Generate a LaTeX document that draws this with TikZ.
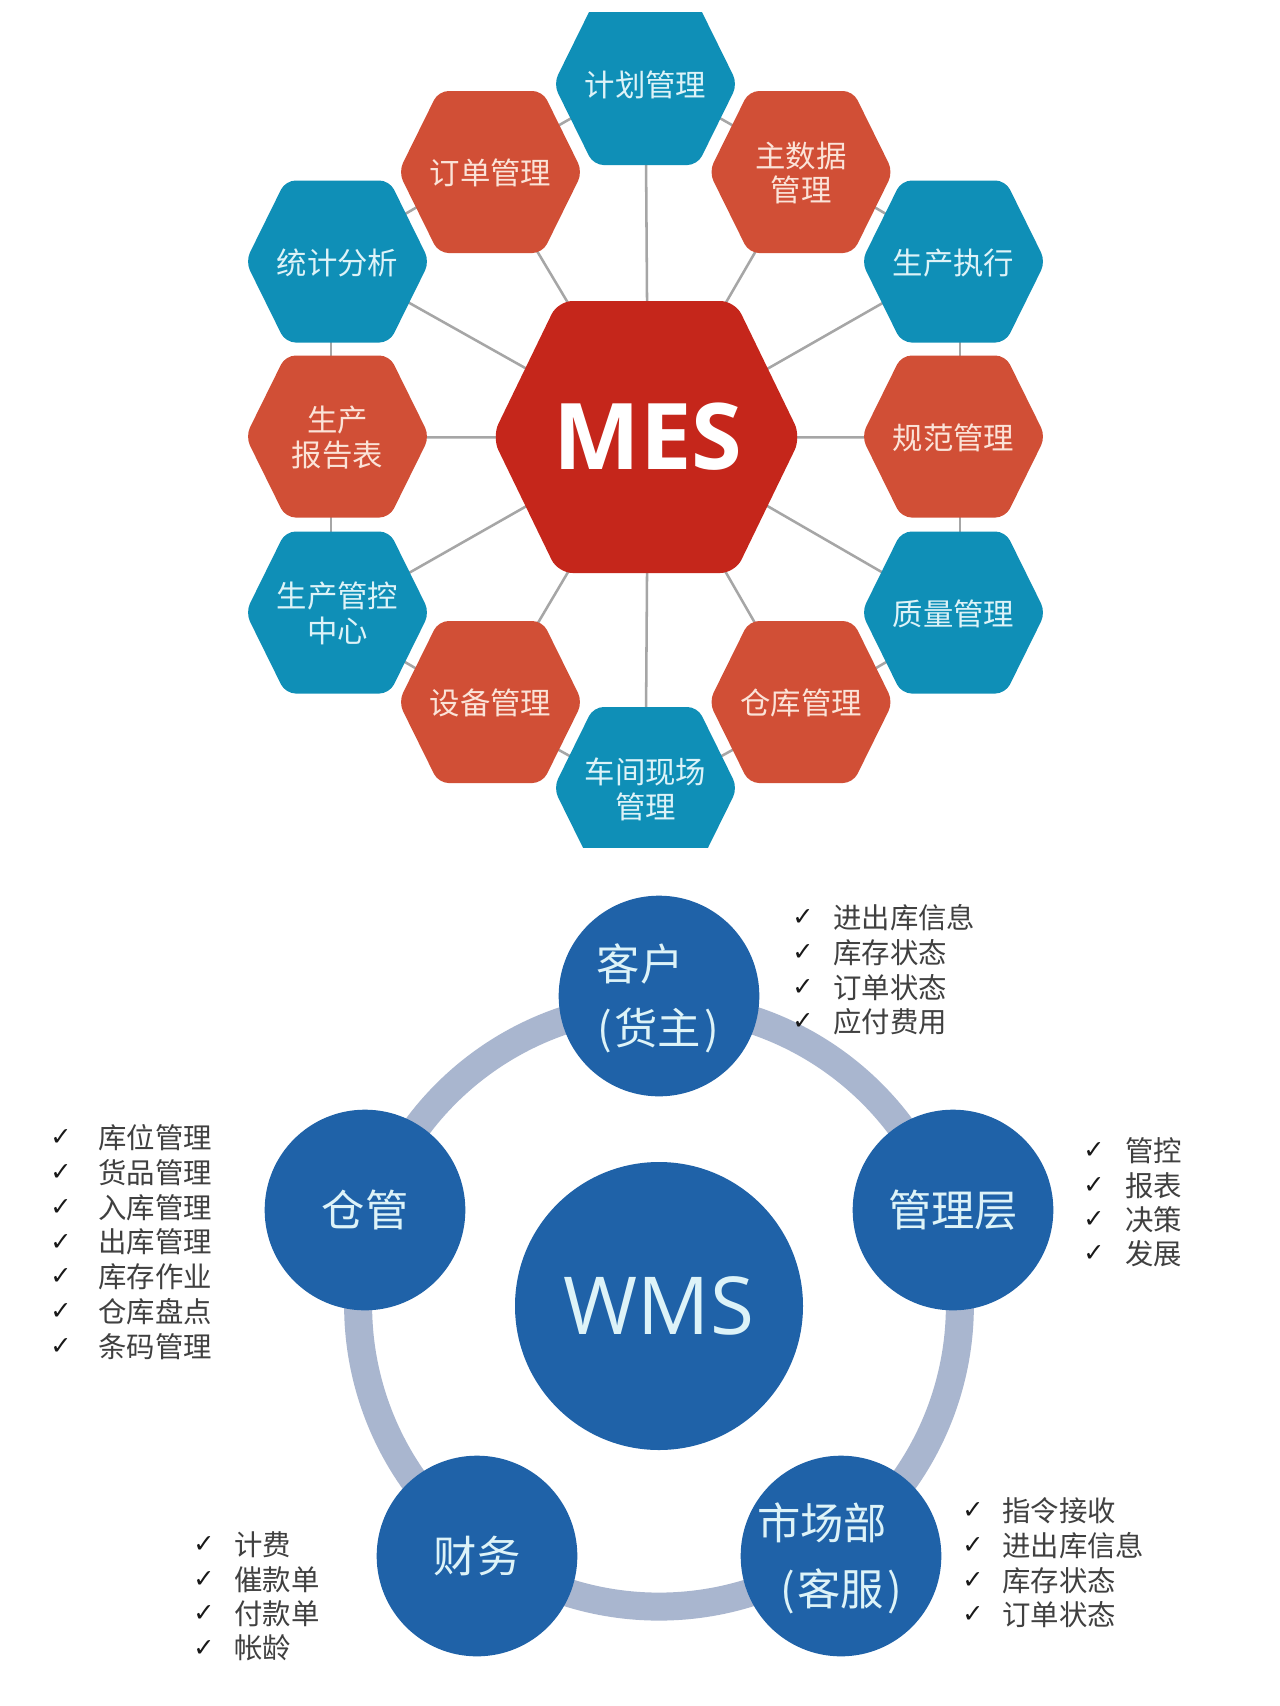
\documentclass[tikz,border=0pt]{standalone}
\usepackage{fontspec}
\usetikzlibrary{calc}
\newfontfamily\cjk{Noto Sans CJK SC}
\newfontfamily\chkfont{DejaVu Sans}
\newfontfamily\opensans{Open Sans}
\definecolor{hexteal}{HTML}{0F8FB7}
\definecolor{hexred}{HTML}{D14F36}
\definecolor{mesred}{HTML}{C5261B}
\definecolor{wmsblue}{HTML}{1F62A8}
\definecolor{ringc}{HTML}{A9B6CF}
\definecolor{lightc}{HTML}{DDF3F8}
\definecolor{warmc}{HTML}{FBE3D8}
\pgfdeclarelayer{bg}
\pgfsetlayers{bg,main}
\tikzset{
  hexlabel/.style={align=center,inner sep=0pt,yshift=-0.8pt,font=\cjk\fontsize{22.8}{26}\selectfont},
  linkline/.style={draw=black!35,line width=1.9pt},
  ringarc/.style={draw=ringc,line width=21pt,bend left=36,looseness=0.94},
  bigcirc/.style={circle,fill=wmsblue,text=lightc,inner sep=0pt,align=center,minimum size=150.5pt},
  roletext/.style={inner sep=0pt,text=lightc,font=\cjk\fontsize{32.5}{32}\selectfont},
  chk/.style={inner sep=0pt,text=black!90,font=\chkfont\fontsize{19}{19}\selectfont},
  itemtext/.style={anchor=west,inner sep=0pt,text=black!75,font=\cjk\fontsize{21.3}{24}\selectfont},
}
% name, x, y, colour, text colour, text
\newcommand{\hexat}[6]{%
  \fill[#4,rounded corners=7.5pt] (#2-92,#3) -- (#2-52,#3-81) -- (#2+52,#3-81) -- (#2+92,#3) -- (#2+52,#3+81) -- (#2-52,#3+81) -- cycle;
  \node[hexlabel,text=#5] (#1) at (#2,#3) {#6};
}
% key, check x, text x, y, text
\newcommand{\rowat}[5]{%
  \node[chk] (c#1) at (#2,#3) {✓};
  \node[itemtext] (t#1) at (#4,#3) {#5};
}
\begin{document}
\begin{tikzpicture}[x=0.75pt,y=-0.75pt]
\useasboundingbox (0,0) rectangle (1279,1706);
% ---- MES ----
\begin{scope}
\clip (0,12) rectangle (1279,847);
\fill[mesred,rounded corners=11pt] (492,437) -- (558,301) -- (735,301) -- (801,437) -- (735,573) -- (558,573) -- cycle;
\node[inner sep=0pt,text=white,font=\opensans\bfseries\fontsize{69}{69}\selectfont] (mes) at (648,437) {MES};
\hexat{plan}{645.5}{84}{hexteal}{lightc}{计划管理}
\hexat{order}{490.5}{172}{hexred}{warmc}{订单管理}
\hexat{master}{801}{172}{hexred}{warmc}{主数据\\管理}
\hexat{stats}{337.5}{261.5}{hexteal}{lightc}{统计分析}
\hexat{exec}{953.5}{261.5}{hexteal}{lightc}{生产执行}
\hexat{report}{337.5}{436.5}{hexred}{warmc}{生产\\报告表}
\hexat{norm}{953.5}{436.5}{hexred}{warmc}{规范管理}
\hexat{ctrl}{337.5}{612.5}{hexteal}{lightc}{生产管控\\中心}
\hexat{quality}{953.5}{612.5}{hexteal}{lightc}{质量管理}
\hexat{equip}{490.5}{702}{hexred}{warmc}{设备管理}
\hexat{store}{801}{702}{hexred}{warmc}{仓库管理}
\hexat{shop}{645.5}{788}{hexteal}{lightc}{车间现场\\管理}
\end{scope}
\begin{pgfonlayer}{bg}
\fill[white] (0,0) rectangle (1279,1706);
\foreach \n in {plan,order,master,stats,exec,report,norm,ctrl,quality,equip,store,shop}
  \draw[linkline] (mes.center) -- (\n.center);
\draw[linkline] ($(plan.center)+(0,-9)$) -- ($(master.center)+(0,-9)$);
\draw[linkline] ($(plan.center)+(0,-9)$) -- ($(order.center)+(0,-9)$);
\draw[linkline] ($(order.center)+(0,-9)$) -- ($(stats.center)+(0,-9)$);
\draw[linkline] ($(master.center)+(0,-9)$) -- ($(exec.center)+(0,-9)$);
\draw[linkline] ($(stats.center)+(-6.5,0)$) -- ($(report.center)+(-6.5,0)$);
\draw[linkline] ($(report.center)+(-6.5,0)$) -- ($(ctrl.center)+(-6.5,0)$);
\draw[linkline] ($(exec.center)+(6.5,0)$) -- ($(norm.center)+(6.5,0)$);
\draw[linkline] ($(norm.center)+(6.5,0)$) -- ($(quality.center)+(6.5,0)$);
\draw[linkline] ($(ctrl.center)+(0,9)$) -- ($(equip.center)+(0,9)$);
\draw[linkline] ($(quality.center)+(0,9)$) -- ($(store.center)+(0,9)$);
\draw[linkline] ($(equip.center)+(0,9)$) -- ($(shop.center)+(0,9)$);
\draw[linkline] ($(store.center)+(0,9)$) -- ($(shop.center)+(0,9)$);
\end{pgfonlayer}
% ---- WMS ----
\node[bigcirc,minimum size=216pt,font=\opensans\fontsize{60}{60}\selectfont] (wms) at (659,1306) {WMS};
\node[bigcirc] (kehu) at (659,996) {};
\node[bigcirc] (cang) at (365,1210) {};
\node[bigcirc] (guan) at (953,1210) {};
\node[bigcirc] (cai) at (477,1556) {};
\node[bigcirc] (shi) at (841,1556) {};
\node[roletext] (l1) at (640,964) {客户};
\node[roletext] (l2) at (658,1030) {(\hspace{2pt}货主\hspace{2pt})};
\node[roletext] (l3) at (365,1210) {仓管};
\node[roletext] (l4) at (953,1210) {管理层};
\node[roletext] (l5) at (477,1556) {财务};
\node[roletext] (l6) at (822,1523) {市场部};
\node[roletext] (l7) at (841,1591) {(\hspace{2pt}客服\hspace{2pt})};
\begin{pgfonlayer}{bg}
\coordinate (ra) at ($(wms.center)!225.75pt!(kehu.center)$);
\coordinate (rb) at ($(wms.center)!225.75pt!(guan.center)$);
\coordinate (rc) at ($(wms.center)!225.75pt!(shi.center)$);
\coordinate (rd) at ($(wms.center)!225.75pt!(cai.center)$);
\coordinate (re) at ($(wms.center)!225.75pt!(cang.center)$);
\draw[ringarc] (ra) to (rb);
\draw[ringarc] (rb) to (rc);
\draw[ringarc] (rc) to (rd);
\draw[ringarc] (rd) to (re);
\draw[ringarc] (re) to (ra);
\end{pgfonlayer}
% ---- lists ----
\rowat{a1}{61}{1138}{98}{库位管理}
\rowat{a2}{61}{1172.7}{98}{货品管理}
\rowat{a3}{61}{1207.4}{98}{入库管理}
\rowat{a4}{61}{1242.1}{98}{出库管理}
\rowat{a5}{61}{1276.8}{98}{库存作业}
\rowat{a6}{61}{1311.5}{98}{仓库盘点}
\rowat{a7}{61}{1346.2}{98}{条码管理}
\rowat{b1}{204}{1545}{234}{计费}
\rowat{b2}{204}{1579.4}{234}{催款单}
\rowat{b3}{204}{1613.8}{234}{付款单}
\rowat{b4}{204}{1648.2}{234}{帐龄}
\rowat{d1}{803}{918}{833}{进出库信息}
\rowat{d2}{803}{952.7}{833}{库存状态}
\rowat{d3}{803}{987.4}{833}{订单状态}
\rowat{d4}{803}{1022}{833}{应付费用}
\rowat{e1}{1094}{1151}{1125}{管控}
\rowat{e2}{1094}{1185.3}{1125}{报表}
\rowat{e3}{1094}{1219.6}{1125}{决策}
\rowat{e4}{1094}{1254}{1125}{发展}
\rowat{f1}{973}{1511}{1002}{指令接收}
\rowat{f2}{973}{1545.7}{1002}{进出库信息}
\rowat{f3}{973}{1580.4}{1002}{库存状态}
\rowat{f4}{973}{1615}{1002}{订单状态}
\end{tikzpicture}
\end{document}
